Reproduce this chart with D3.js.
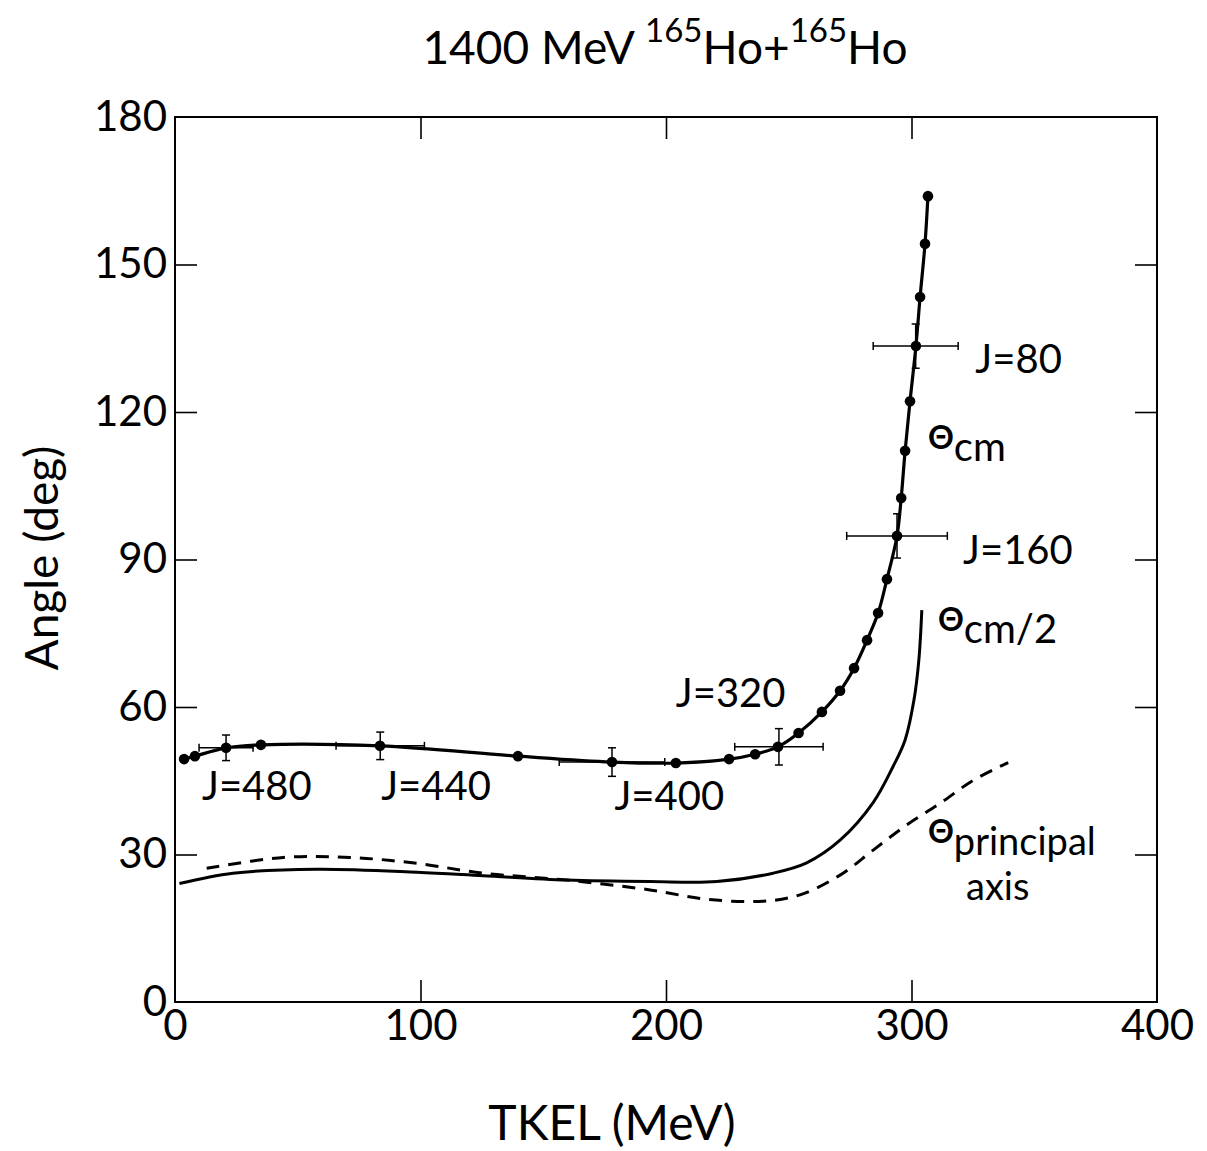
<!DOCTYPE html>
<html><head><meta charset="utf-8">
<script src="https://cdn.jsdelivr.net/npm/d3@7"></script>
<style>
body{margin:0;background:#fff;}
text{font-family:Lato,"DejaVu Sans",sans-serif;fill:#000;}
</style></head>
<body><svg id="c" width="1207" height="1151"></svg>
<script>
// ---- data ----
const xTicks = [0, 100, 200, 300, 400];
const yTicks = [0, 30, 60, 90, 120, 150, 180];

// Theta_cm points (TKEL, angle)
const cmTKEL  = [3.7, 8.1, 20.8, 35.0, 83.5, 139.7, 178.0, 204.0, 225.7, 236.3, 245.6, 254.0, 263.5, 270.9, 276.6, 281.9, 286.4, 290.0, 294.1, 295.8, 297.4, 299.4, 301.8, 303.5, 305.5, 306.7];
const cmAngle = [49.4, 50.0, 51.7, 52.3, 52.1, 50.0, 48.8, 48.6, 49.4, 50.4, 51.9, 54.7, 59.0, 63.3, 67.9, 73.6, 79.1, 86.0, 94.8, 102.5, 112.1, 122.2, 133.4, 143.4, 154.2, 163.9];

// error bars
const errTKEL  = [20.8, 83.6, 178.0, 246.0, 294.1, 301.7];
const errAngle = [51.7, 52.1, 48.8, 51.9, 94.8, 133.4];
const errDX    = [11.0, 18.0, 21.5, 18.0, 20.5, 17.3];
const errDY    = [2.6, 2.8, 2.9, 3.7, 4.5, 4.5];

// Theta_cm / 2
const halfTKEL  = [1.8, 23.6, 57.7, 98.5, 125.5, 159.6, 193.5, 220.7, 243.6, 257.3, 270.9, 284.3, 292.5, 297.4, 301.0, 303.0, 304.2];
const halfAngle = [24.1, 26.2, 27.0, 26.4, 25.7, 24.8, 24.5, 24.5, 26.2, 28.3, 32.9, 40.5, 47.9, 53.3, 61.4, 69.6, 79.7];

// Theta principal axis (dashed)
const prTKEL  = [12.9, 44.1, 71.3, 98.5, 125.5, 159.6, 193.5, 216.6, 239.6, 254.6, 270.9, 284.4, 298.0, 311.6, 325.2, 339.4];
const prAngle = [27.2, 29.4, 29.4, 28.2, 26.2, 24.8, 22.8, 20.9, 20.5, 21.8, 25.8, 30.9, 36.0, 40.4, 45.1, 48.7];

// J labels
const jLabels = ["J=480", "J=440", "J=400", "J=320", "J=160", "J=80"];
const jTKEL   = [11, 84, 179, 204, 321, 326];
const jAngle  = [41, 41, 39, 60, 89, 128];

// ---- drawing ----
const svg = d3.select("#c");
const x = d3.scaleLinear().domain([0, 400]).range([175, 1157]);
const y = d3.scaleLinear().domain([0, 180]).range([1002, 117]);

// frame
svg.append("rect").attr("x", x(0)).attr("y", y(180))
  .attr("width", x(400) - x(0)).attr("height", y(0) - y(180))
  .attr("fill", "none").attr("stroke", "#000").attr("stroke-width", 2);

function styleAxis(g, fs) {
  g.select(".domain").remove();
  g.selectAll(".tick line").attr("stroke", "#000").attr("stroke-width", 1.6);
  g.selectAll(".tick text").style("font-size", fs + "px").attr("fill", "#000")
    .style("font-family", "Lato, 'DejaVu Sans', sans-serif");
}

const gB = svg.append("g").attr("transform", `translate(0,${y(0)})`)
  .call(d3.axisBottom(x).tickValues(xTicks).tickSize(-22).tickSizeOuter(0).tickPadding(8).tickFormat(d3.format("d")));
styleAxis(gB, 42);
gB.selectAll(".tick").filter(d => d === 0 || d === 400).select("line").remove();

const gT = svg.append("g").attr("transform", `translate(0,${y(180)})`)
  .call(d3.axisTop(x).tickValues([100, 200, 300]).tickSize(-22).tickSizeOuter(0).tickFormat(""));
styleAxis(gT, 42);

const gL = svg.append("g").attr("transform", `translate(${x(0)},0)`)
  .call(d3.axisLeft(y).tickValues(yTicks).tickSize(-22).tickSizeOuter(0).tickPadding(8).tickFormat(d3.format("d")));
styleAxis(gL, 42);
gL.selectAll(".tick").filter(d => d === 0 || d === 180).select("line").remove();

const gR = svg.append("g").attr("transform", `translate(${x(400)},0)`)
  .call(d3.axisRight(y).tickValues([30, 60, 90, 120, 150]).tickSize(-22).tickSizeOuter(0).tickFormat(""));
styleAxis(gR, 42);

// axis titles
svg.append("text").attr("x", 612).attr("y", 1140).attr("text-anchor", "middle")
  .style("font-size", "48px").text("TKEL (MeV)");
svg.append("text").attr("transform", "translate(58,558) rotate(-90)").attr("text-anchor", "middle")
  .style("font-size", "46px").text("Angle (deg)");

// title
const title = svg.append("text").attr("x", 665).attr("y", 64).attr("text-anchor", "middle").style("font-size", "46px");
title.append("tspan").text("1400 MeV ");
title.append("tspan").attr("dy", -22).style("font-size", "33px").text("165");
title.append("tspan").attr("dy", 22).text("Ho+");
title.append("tspan").attr("dy", -22).style("font-size", "33px").text("165");
title.append("tspan").attr("dy", 22).text("Ho");

// curves
const cmData = cmTKEL.map((v, i) => [v, cmAngle[i]]);
const halfData = halfTKEL.map((v, i) => [v, halfAngle[i]]);
const prData = prTKEL.map((v, i) => [v, prAngle[i]]);
const line = d3.line().x(d => x(d[0])).y(d => y(d[1])).curve(d3.curveCatmullRom.alpha(0.5));

svg.append("path").attr("d", line(cmData)).attr("fill", "none").attr("stroke", "#000").attr("stroke-width", 3.2);
svg.append("path").attr("d", line(halfData)).attr("fill", "none").attr("stroke", "#000").attr("stroke-width", 3);
svg.append("path").attr("d", line(prData)).attr("fill", "none").attr("stroke", "#000").attr("stroke-width", 3)
  .attr("stroke-dasharray", "13,9");

// error bars
const eb = svg.append("g").attr("stroke", "#000").attr("stroke-width", 1.5);
errTKEL.forEach((v, i) => {
  const cx = x(v), cy = y(errAngle[i]);
  const x0 = x(v - errDX[i]), x1 = x(v + errDX[i]);
  const y0 = y(errAngle[i] - errDY[i]), y1 = y(errAngle[i] + errDY[i]);
  eb.append("line").attr("x1", x0).attr("x2", x1).attr("y1", cy).attr("y2", cy);
  eb.append("line").attr("x1", x0).attr("x2", x0).attr("y1", cy - 4).attr("y2", cy + 4);
  eb.append("line").attr("x1", x1).attr("x2", x1).attr("y1", cy - 4).attr("y2", cy + 4);
  eb.append("line").attr("x1", cx).attr("x2", cx).attr("y1", y0).attr("y2", y1);
  eb.append("line").attr("x1", cx - 4).attr("x2", cx + 4).attr("y1", y0).attr("y2", y0);
  eb.append("line").attr("x1", cx - 4).attr("x2", cx + 4).attr("y1", y1).attr("y2", y1);
});

// dots
svg.append("g").selectAll("circle").data(cmData).join("circle")
  .attr("cx", d => x(d[0])).attr("cy", d => y(d[1])).attr("r", 5.3).attr("fill", "#000");

// J labels
svg.append("g").selectAll("text").data(jLabels).join("text")
  .attr("x", (d, i) => x(jTKEL[i])).attr("y", (d, i) => y(jAngle[i]))
  .style("font-size", "40px").text(d => d);

// Theta labels
function thetaLabel(px, py, sub, fs) {
  const t = svg.append("text").attr("x", px).attr("y", py).style("font-size", fs + "px");
  t.append("tspan").attr("dy", -12).style("font-size", "32px").style("font-weight", "bold").text("Θ");
  t.append("tspan").attr("dy", 12).text(sub);
}
thetaLabel(928, 461, "cm", 40);
thetaLabel(938, 643, "cm/2", 40);
thetaLabel(928, 855, "principal", 38);
svg.append("text").attr("x", 966).attr("y", 900).style("font-size", "38px").text("axis");
</script></body></html>
